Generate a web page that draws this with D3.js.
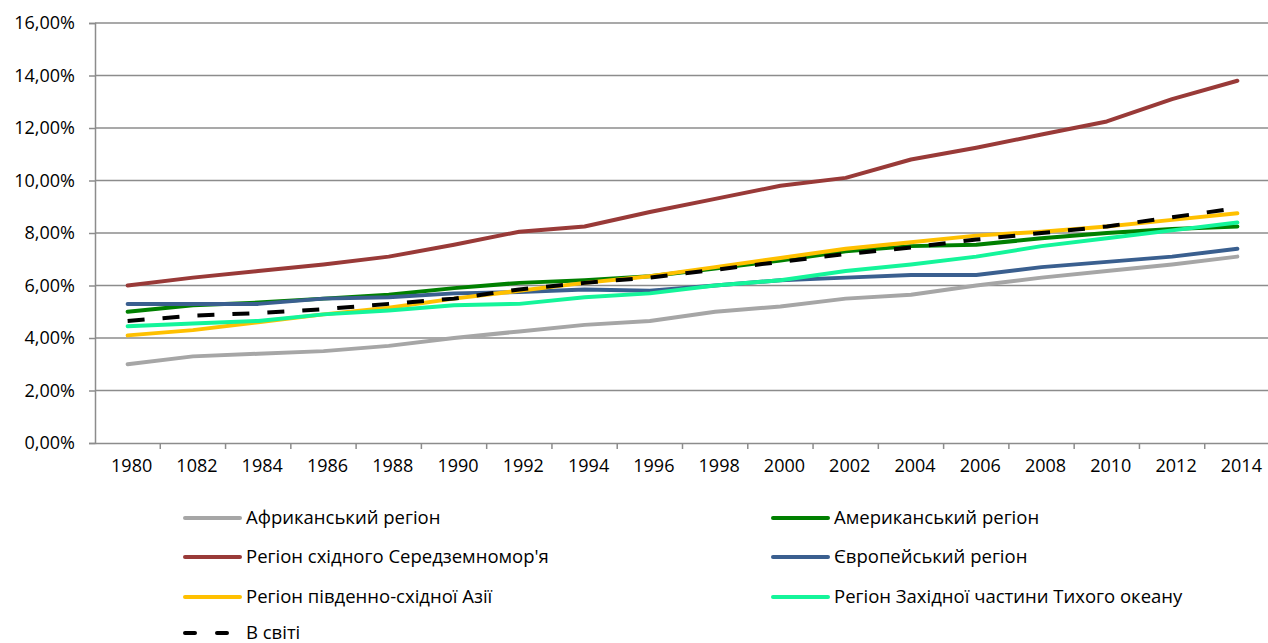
<!DOCTYPE html>
<html>
<head>
<meta charset="utf-8">
<script src="https://cdn.jsdelivr.net/npm/d3@7"></script>
<style>
  body { margin: 0; background: #fff; }
  text { font-family: "Open Sans", sans-serif; fill: #000; }
</style>
</head>
<body>
<script>
var years = ["1980","1082","1984","1986","1988","1990","1992","1994","1996","1998","2000","2002","2004","2006","2008","2010","2012","2014"];
var yTicks = [0, 2, 4, 6, 8, 10, 12, 14, 16];

var africa   = [3.0, 3.3, 3.4, 3.5, 3.7, 4.0, 4.25, 4.5, 4.65, 5.0, 5.2, 5.5, 5.65, 6.0, 6.3, 6.55, 6.8, 7.1];
var america  = [5.0, 5.25, 5.35, 5.5, 5.65, 5.9, 6.1, 6.2, 6.35, 6.65, 6.95, 7.3, 7.5, 7.55, 7.8, 8.0, 8.15, 8.25];
var eastMed  = [6.0, 6.3, 6.55, 6.8, 7.1, 7.55, 8.05, 8.25, 8.8, 9.3, 9.8, 10.1, 10.8, 11.25, 11.75, 12.25, 13.1, 13.8];
var europe   = [5.3, 5.3, 5.3, 5.5, 5.55, 5.7, 5.75, 5.85, 5.8, 6.0, 6.2, 6.3, 6.4, 6.4, 6.7, 6.9, 7.1, 7.4];
var seAsia   = [4.1, 4.3, 4.6, 4.9, 5.15, 5.5, 5.8, 6.1, 6.35, 6.7, 7.05, 7.4, 7.65, 7.9, 8.05, 8.25, 8.5, 8.75];
var wPacific = [4.45, 4.55, 4.65, 4.9, 5.05, 5.25, 5.3, 5.55, 5.7, 6.0, 6.2, 6.55, 6.8, 7.1, 7.5, 7.8, 8.1, 8.4];
var world    = [4.65, 4.85, 4.95, 5.1, 5.3, 5.5, 5.85, 6.1, 6.3, 6.6, 6.9, 7.2, 7.45, 7.75, 8.0, 8.25, 8.6, 8.95];

var series = [
  { name: "Африканський регіон", values: africa, color: "#a6a6a6" },
  { name: "Американський регіон", values: america, color: "#008000" },
  { name: "Регіон східного Середземномор'я", values: eastMed, color: "#993a38" },
  { name: "Європейський регіон", values: europe, color: "#3a5f8f" },
  { name: "Регіон південно-східної Азії", values: seAsia, color: "#ffc000" },
  { name: "Регіон Західної частини Тихого океану", values: wPacific, color: "#14f59a" },
  { name: "В світі", values: world, color: "#000000", dash: true }
];

var width = 1268, height = 643;
var mLeft = 95, mRight = 1270, mTop = 23, mBottom = 443;

var svg = d3.select("body").append("svg")
  .attr("width", width)
  .attr("height", height);

var x = d3.scaleBand().domain(years).range([mLeft, mRight]);
var y = d3.scaleLinear().domain([0, 16]).range([mBottom, mTop]);

// gridlines
svg.append("g")
  .selectAll("line")
  .data(yTicks.slice(1))
  .join("line")
  .attr("x1", mLeft)
  .attr("x2", mRight)
  .attr("y1", function (d) { return y(d); })
  .attr("y2", function (d) { return y(d); })
  .attr("stroke", "#8c8c8c")
  .attr("stroke-width", 1.5);

// y axis
var yAxis = svg.append("g")
  .attr("transform", `translate(${mLeft},0)`)
  .call(d3.axisLeft(y).tickValues(yTicks).tickSize(6).tickPadding(14)
    .tickFormat(function (d) { return d.toFixed(2).replace(".", ",") + "%"; }));
yAxis.select(".domain").attr("stroke", "#8c8c8c").attr("stroke-width", 1.5);
yAxis.selectAll(".tick line").attr("stroke", "#8c8c8c").attr("stroke-width", 1.5);
yAxis.selectAll("text").attr("font-size", 18).attr("font-family", "'Open Sans', sans-serif");

// x axis
var xAxis = svg.append("g")
  .attr("transform", `translate(0,${mBottom})`)
  .call(d3.axisBottom(x).tickSize(0).tickPadding(16));
xAxis.select(".domain").attr("stroke", "#8c8c8c").attr("stroke-width", 1.5);
xAxis.selectAll("text").attr("font-size", 18).attr("font-family", "'Open Sans', sans-serif")
  .attr("dx", 4);

// category boundary ticks
svg.append("g")
  .selectAll("line")
  .data(years.slice(1))
  .join("line")
  .attr("x1", function (d) { return x(d); })
  .attr("x2", function (d) { return x(d); })
  .attr("y1", mBottom)
  .attr("y2", mBottom + 6)
  .attr("stroke", "#8c8c8c")
  .attr("stroke-width", 1.5);

var line = d3.line()
  .x(function (d, i) { return x(years[i]) + x.bandwidth() / 2; })
  .y(function (d) { return y(d); });

svg.append("g")
  .selectAll("path")
  .data(series)
  .join("path")
  .attr("d", function (d) { return line(d.values); })
  .attr("fill", "none")
  .attr("stroke", function (d) { return d.color; })
  .attr("stroke-width", 4)
  .attr("stroke-linejoin", "round")
  .attr("stroke-linecap", function (d) { return d.dash ? "butt" : "round"; })
  .attr("stroke-dasharray", function (d) { return d.dash ? "17,18" : null; });

// legend
var legendPos = [
  [185, 518], [773, 518],
  [185, 557], [773, 557],
  [185, 597], [773, 597],
  [185, 633]
];

var lg = svg.append("g")
  .selectAll("g")
  .data(series)
  .join("g")
  .attr("transform", function (d, i) { return `translate(${legendPos[i][0]},${legendPos[i][1]})`; });

lg.append("line")
  .attr("x1", 0)
  .attr("x2", 55)
  .attr("stroke", function (d) { return d.color; })
  .attr("stroke-width", 4)
  .attr("stroke-linecap", "round")
  .attr("stroke-dasharray", function (d) { return d.dash ? "10,22" : null; });

lg.append("text")
  .attr("x", 61)
  .attr("dy", "0.35em")
  .attr("font-size", 18.5)
  .text(function (d) { return d.name; });
</script>
</body>
</html>
